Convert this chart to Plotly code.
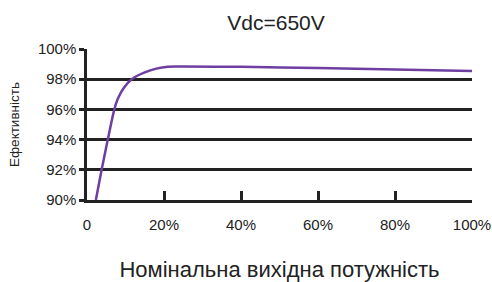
import plotly.graph_objects as go

load_pct = [2.3, 3.8, 5.4, 7.1, 8.0, 9.5, 11.6, 15, 18, 21, 25, 40, 60, 80, 100]
efficiency = [90, 92, 94, 96, 96.7, 97.4, 98.0, 98.45, 98.7, 98.83, 98.84, 98.82, 98.74, 98.64, 98.55]

x_tickvals = [0, 20, 40, 60, 80, 100]
x_ticktext = ["0", "20%", "40%", "60%", "80%", "100%"]
y_tickvals = [90, 92, 94, 96, 98, 100]
y_ticktext = ["90%", "92%", "94%", "96%", "98%", "100%"]

FONT = "Liberation Sans, Arial, sans-serif"
DARK = "#222222"

fig = go.Figure()
fig.add_trace(go.Scatter(
    x=load_pct, y=efficiency, mode="lines",
    line=dict(color="#6e3fa0", width=2.5, shape="spline", smoothing=0.8),
    showlegend=False, hoverinfo="skip", cliponaxis=True,
))

fig.update_layout(
    width=492, height=282,
    margin=dict(l=87, r=20, t=49, b=82, autoexpand=False),
    paper_bgcolor="white", plot_bgcolor="white",
    font=dict(family=FONT, color=DARK),
    title=dict(text="Vdc=650V", x=276/492, xanchor="center", y=1 - 23/282, yanchor="middle",
               font=dict(size=21, color=DARK, family=FONT), automargin=False),
    xaxis=dict(
        range=[0, 100], tickvals=x_tickvals, ticktext=x_ticktext,
        ticks="inside", ticklen=9, tickwidth=2.5, tickcolor=DARK,
        showline=True, linecolor=DARK, linewidth=2.5,
        showgrid=False, zeroline=False, automargin=False,
        tickfont=dict(size=15, color=DARK), ticklabelstandoff=9,
        title=dict(text="Номінальна вихідна потужність", font=dict(size=22, color=DARK), standoff=30),
    ),
    yaxis=dict(
        range=[90, 100], tickvals=y_tickvals, ticktext=y_ticktext,
        ticks="outside", ticklen=5, tickwidth=2.5, tickcolor=DARK,
        showline=True, linecolor=DARK, linewidth=2.5,
        showgrid=True, gridcolor=DARK, gridwidth=2.5, zeroline=False, automargin=False,
        tickfont=dict(size=15, color=DARK),
        title=dict(text="Ефективність", font=dict(size=13.5, color=DARK), standoff=16),
    ),
)

fig.write_html("out.html", config={"displayModeBar": False},
               post_script="document.body.style.margin='0';")
